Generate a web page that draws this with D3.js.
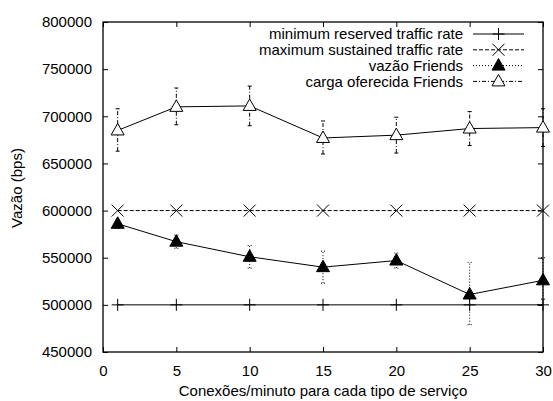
<!DOCTYPE html>
<html>
<head>
<meta charset="utf-8">
<script src="https://cdn.jsdelivr.net/npm/d3@7"></script>
<style>
body { margin: 0; background: #fff; }
text { font-family: "Liberation Sans", Arial, sans-serif; fill: #000; }
</style>
</head>
<body>
<div id="chart"></div>
<script>
// data
var conexoes = [1, 5, 10, 15, 20, 25, 30];
var minReserved = [500000, 500000, 500000, 500000, 500000, 500000, 500000];
var maxSustained = [600000, 600000, 600000, 600000, 600000, 600000, 600000];
var vazao = [586000, 567000, 551000, 540000, 547000, 511000, 526000];
var vazaoLow = [581000, 560000, 539000, 523000, 539000, 479000, 506000];
var vazaoHigh = [590000, 574000, 563000, 557000, 555000, 545000, 550000];
var carga = [685000, 710000, 711000, 677000, 680000, 687000, 688000];
var cargaLow = [663000, 691000, 690000, 660000, 661000, 669000, 668000];
var cargaHigh = [708000, 730000, 732000, 695000, 699000, 705000, 708000];
var xTicks = [0, 5, 10, 15, 20, 25, 30];
var yTicks = [450000, 500000, 550000, 600000, 650000, 700000, 750000, 800000];
var legendLabels = ["minimum reserved traffic rate", "maximum sustained traffic rate", "vazão Friends", "carga oferecida Friends"];

// set the dimensions and margins of the graph
var margin = {top: 22, right: 10, bottom: 49, left: 103},
width = 440,
height = 330;

var svg = d3.select("#chart")
.append("svg")
.attr("width", 553)
.attr("height", 401)
.append("g")
.attr("transform", "translate(" + margin.left + "," + margin.top + ")");

var x = d3.scaleLinear().domain([0, 30]).range([0, width]);
var y = d3.scaleLinear().domain([450000, 800000]).range([height, 0]);

// axes, gnuplot style: inward ticks mirrored on all sides
svg.append("g")
.attr("transform", "translate(0," + height + ")")
.call(d3.axisBottom(x).tickValues(xTicks).tickFormat(d3.format("d")).tickSizeInner(-5).tickSizeOuter(0).tickPadding(13));
svg.append("g")
.call(d3.axisLeft(y).tickValues(yTicks).tickFormat(d3.format("d")).tickSizeInner(-5).tickSizeOuter(0).tickPadding(11));
svg.append("g")
.call(d3.axisTop(x).tickValues(xTicks).tickSizeInner(-5).tickSizeOuter(0).tickFormat(""));
svg.append("g")
.attr("transform", "translate(" + width + ",0)")
.call(d3.axisRight(y).tickValues(yTicks).tickSizeInner(-5).tickSizeOuter(0).tickFormat(""));

svg.selectAll(".domain").remove();
svg.selectAll(".tick line").attr("stroke", "#000");
svg.selectAll(".tick text").style("font-size", "15px");
// frame
svg.append("rect")
.attr("width", width).attr("height", height)
.attr("fill", "none").attr("stroke", "#000").attr("stroke-width", 1.3);

// axis titles
svg.append("text")
.attr("x", width / 2).attr("y", height + 44)
.attr("text-anchor", "middle").style("font-size", "15px")
.text("Conexões/minuto para cada tipo de serviço");
svg.append("text")
.attr("transform", "translate(" + (17 - margin.left) + "," + (height / 2 + 1) + ") rotate(-90)")
.attr("text-anchor", "middle").attr("dy", "0.35em").style("font-size", "15px")
.text("Vazão (bps)");

function pts(vals) {
    return conexoes.map(function(c, i) { return [c, vals[i]]; });
}
var line = d3.line().x(function(d) { return x(d[0]); }).y(function(d) { return y(d[1]); });

// marker shapes
function plus(g, cx, cy) {
    g.append("path").attr("d", "M" + (cx - 6) + "," + cy + "H" + (cx + 6) + "M" + cx + "," + (cy - 6) + "V" + (cy + 6))
    .attr("stroke", "#000").attr("stroke-width", 1).attr("fill", "none");
}
function cross(g, cx, cy) {
    g.append("path").attr("d", "M" + (cx - 6) + "," + (cy - 6) + "L" + (cx + 6) + "," + (cy + 6) + "M" + (cx - 6) + "," + (cy + 6) + "L" + (cx + 6) + "," + (cy - 6))
    .attr("stroke", "#000").attr("stroke-width", 1).attr("fill", "none");
}
function tri(g, cx, cy, filled) {
    g.append("path").attr("d", "M" + cx + "," + (cy - 7) + "L" + (cx + 6.5) + "," + (cy + 4.5) + "L" + (cx - 6.5) + "," + (cy + 4.5) + "Z")
    .attr("stroke", "#000").attr("stroke-width", 1).attr("fill", filled ? "#000" : "#fff");
}

// error bars
function errorBars(low, high, dash) {
    var g = svg.append("g");
    conexoes.forEach(function(c, i) {
        var cx = x(c);
        g.append("path")
        .attr("d", "M" + cx + "," + y(low[i]) + "V" + y(high[i]) +
            "M" + (cx - 2) + "," + y(low[i]) + "H" + (cx + 2) +
            "M" + (cx - 2) + "," + y(high[i]) + "H" + (cx + 2))
        .attr("stroke", "#000").attr("stroke-width", 1).attr("fill", "none")
        .attr("stroke-dasharray", dash);
    });
}
errorBars(vazaoLow, vazaoHigh, "1,2");
errorBars(cargaLow, cargaHigh, "4,2,1,2");

// lines
svg.append("path").datum(pts(minReserved)).attr("d", line)
.attr("fill", "none").attr("stroke", "#000").attr("stroke-width", 1);
svg.append("path").datum(pts(maxSustained)).attr("d", line)
.attr("fill", "none").attr("stroke", "#000").attr("stroke-width", 1).attr("stroke-dasharray", "4,2");
svg.append("path").datum(pts(vazao)).attr("d", line)
.attr("fill", "none").attr("stroke", "#000").attr("stroke-width", 1);
svg.append("path").datum(pts(carga)).attr("d", line)
.attr("fill", "none").attr("stroke", "#000").attr("stroke-width", 1);

// points
var marks = svg.append("g");
conexoes.forEach(function(c, i) {
    plus(marks, x(c), y(minReserved[i]));
    cross(marks, x(c), y(maxSustained[i]));
    tri(marks, x(c), y(vazao[i]), true);
    tri(marks, x(c), y(carga[i]), false);
});

// legend
var dashes = [null, "4,2", "1,2", "4,2,1,2"];
var leg = svg.append("g").attr("transform", "translate(" + (463 - margin.left) + "," + (34 - margin.top) + ")");
legendLabels.forEach(function(lab, i) {
    var ly = i * 15.8;
    leg.append("text").attr("x", 0).attr("y", ly).attr("dy", "0.35em")
    .attr("text-anchor", "end").style("font-size", "15px").text(lab);
    leg.append("path").attr("d", "M10," + ly + "H61")
    .attr("stroke", "#000").attr("stroke-width", 1).attr("fill", "none")
    .attr("stroke-dasharray", dashes[i]);
    if (i == 0) plus(leg, 35.5, ly);
    if (i == 1) cross(leg, 35.5, ly);
    if (i == 2) tri(leg, 35.5, ly, true);
    if (i == 3) tri(leg, 35.5, ly, false);
});
</script>
</body>
</html>
